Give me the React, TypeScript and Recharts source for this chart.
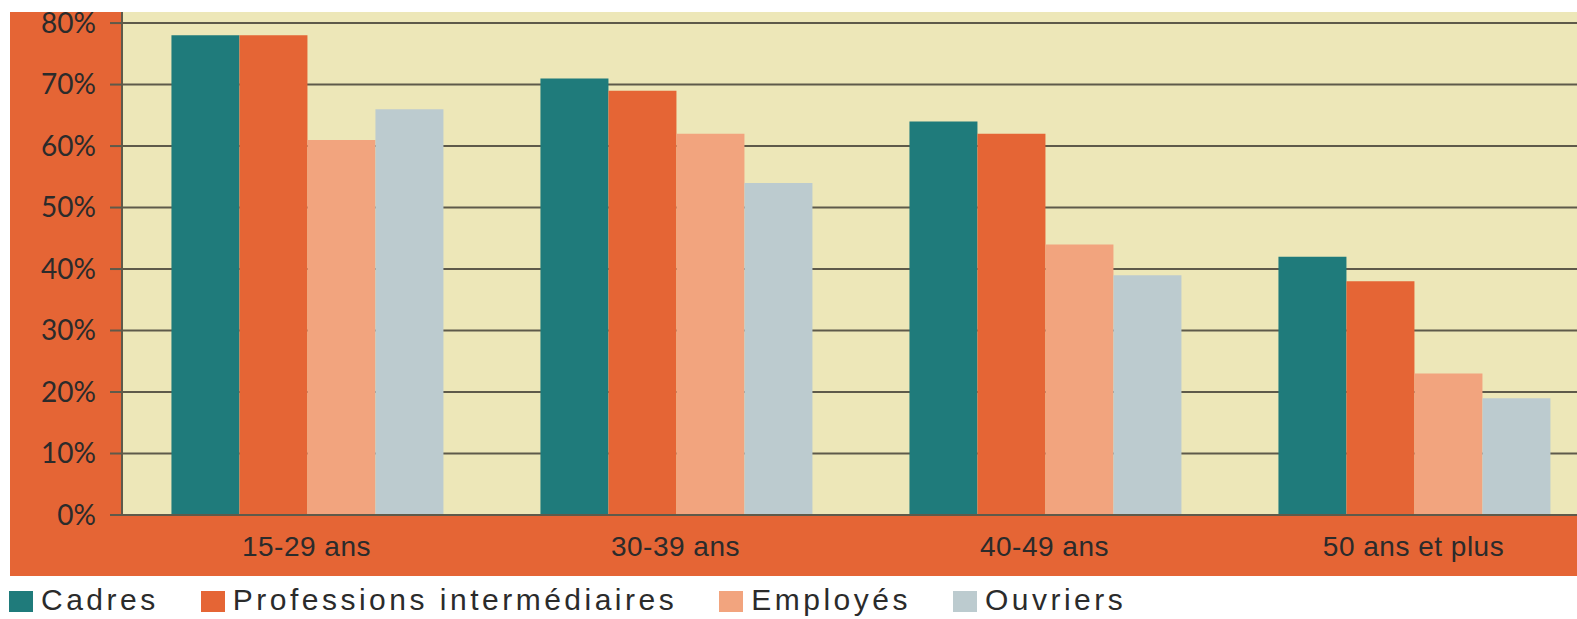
import { Bar, BarChart, CartesianGrid, Legend, XAxis, YAxis } from 'recharts'

const ageGroups = ['15-29 ans', '30-39 ans', '40-49 ans', '50 ans et plus']
const cadres = [78, 71, 64, 42]
const professionsInter = [78, 69, 62, 38]
const employes = [61, 62, 44, 23]
const ouvriers = [66, 54, 39, 19]
const yTicks = [0, 10, 20, 30, 40, 50, 60, 70, 80]
const bandTicks = [0, 1, 2, 3]

const series = [
  { key: 'cadres', name: 'Cadres', color: '#1f7b7b' },
  { key: 'professionsInter', name: 'Professions intermédiaires', color: '#e56535' },
  { key: 'employes', name: 'Employés', color: '#f2a47e' },
  { key: 'ouvriers', name: 'Ouvriers', color: '#bccbcf' },
]

const data = ageGroups.map((age, i) => ({
  age,
  pos: i + 0.5,
  cadres: cadres[i],
  professionsInter: professionsInter[i],
  employes: employes[i],
  ouvriers: ouvriers[i],
}))

const ink = '#2b2b2b'
const gridColor = '#5e5a4a'

function LegendRow() {
  return (
    <div style={{ display: 'flex', alignItems: 'center', paddingTop: 10, paddingLeft: 9 }}>
      {series.map((s) => (
        <div key={s.key} style={{ display: 'flex', alignItems: 'center', marginRight: 42 }}>
          <span style={{ display: 'inline-block', width: 24, height: 21, background: s.color, marginRight: 8, marginTop: 2 }} />
          <span
            style={{
              fontFamily: '"Liberation Sans", Arial, sans-serif',
              fontSize: 30,
              letterSpacing: 3.5,
              color: ink,
              lineHeight: '30px',
            }}
          >
            {s.name}
          </span>
        </div>
      ))}
    </div>
  )
}

export default function App() {
  return (
    <div style={{ position: 'absolute', left: 0, top: 0, width: 1577, height: 619, overflow: 'hidden', background: '#fff' }}>
      <div style={{ position: 'absolute', left: 10, top: 12, width: 1567, height: 564, background: '#e56535' }} />
      <div style={{ position: 'absolute', left: 0, top: 0 }}>
        <BarChart
          width={1600}
          height={619}
          data={data}
          margin={{ top: 12, right: 2, bottom: 0, left: 0 }}
          barCategoryGap='13.4%'
          barGap={0}
        >
          <CartesianGrid
            vertical={false}
            horizontalValues={yTicks}
            fill='#ede7b8'
            stroke={gridColor}
            strokeWidth={2}
            strokeOpacity={1}
          />
          <XAxis
            xAxisId='band'
            type='number'
            dataKey='pos'
            domain={[0, 4]}
            ticks={bandTicks}
            tick={false}
            tickLine={{ stroke: gridColor, strokeWidth: 2 }}
            tickSize={11}
            axisLine={false}
            height={0}
          />
          <XAxis
            dataKey='age'
            height={60}
            tickLine={false}
            tickSize={0}
            tickMargin={21}
            axisLine={{ stroke: gridColor, strokeWidth: 2 }}
            tick={{ fill: ink, fontSize: 28, fontFamily: '"Liberation Sans", Arial, sans-serif', letterSpacing: 0.5 }}
          />
          <YAxis
            width={122}
            domain={[0, 81.8]}
            ticks={yTicks}
            allowDataOverflow
            tickFormatter={(v) => `${v}%`}
            tickSize={12}
            tickMargin={14}
            tickLine={{ stroke: gridColor, strokeWidth: 2 }}
            axisLine={{ stroke: gridColor, strokeWidth: 2 }}
            tick={{ fill: ink, fontSize: 28, fontFamily: 'Lato, sans-serif' }}
          />
          <Legend verticalAlign='bottom' align='left' height={44} content={() => <LegendRow />} />
          {series.map((s) => (
            <Bar key={s.key} dataKey={s.key} name={s.name} fill={s.color} isAnimationActive={false} />
          ))}
        </BarChart>
      </div>
    </div>
  )
}
